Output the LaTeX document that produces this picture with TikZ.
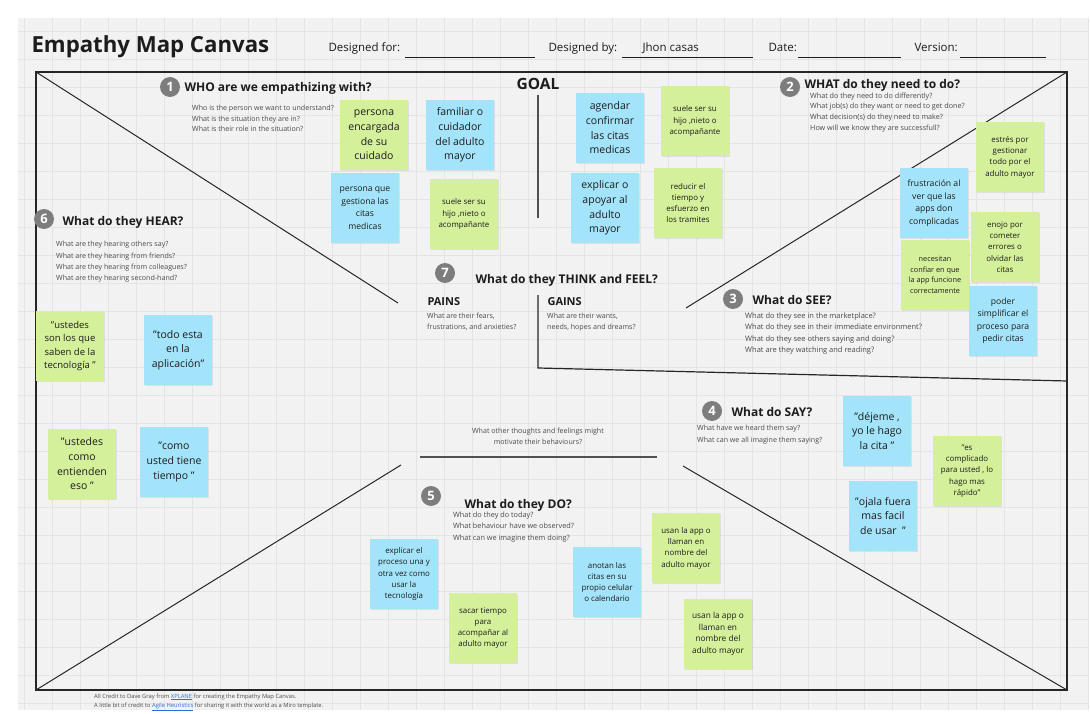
\documentclass[tikz,border=0pt]{standalone}
\usepackage{fontspec}
\setmainfont{Open Sans}
\usepackage{xcolor}
\usepackage{tikz}
\usetikzlibrary{shadows}
\definecolor{ink}{HTML}{1C1C1C}
\definecolor{muted}{HTML}{4A4A4A}
\definecolor{canvas}{HTML}{F2F2F2}
\definecolor{gridgray}{HTML}{E4E4E4}
\definecolor{framegray}{HTML}{262626}
\definecolor{bargray}{HTML}{505050}
\definecolor{dotgray}{HTML}{7D7D7D}
\definecolor{stickgreen}{HTML}{D5F09B}
\definecolor{stickblue}{HTML}{A3E4FA}
\definecolor{linkblue}{HTML}{2F6CE0}
\tikzset{
  stick/.style={minimum width=68pt, minimum height=70pt, inner sep=0pt, align=center, text=ink,
    drop shadow={shadow xshift=.6pt, shadow yshift=-1.4pt, opacity=.16}},
  gstick/.style={stick, fill=stickgreen},
  bstick/.style={stick, fill=stickblue},
  txtbig/.style={font=\fontsize{10.5}{14.7}\selectfont},
  txtmid/.style={font=\fontsize{8.6}{12.5}\selectfont},
  txtsmall/.style={font=\fontsize{7.9}{11.3}\selectfont},
  txttiny/.style={font=\fontsize{7.3}{10.5}\selectfont},
  numdot/.style={circle, fill=dotgray, text=white, minimum size=20pt, inner sep=0pt,
    font=\bfseries\fontsize{13}{13}\selectfont},
  head/.style={anchor=west, font=\bfseries\fontsize{12}{14}\selectfont, text=ink},
  ques/.style={anchor=north west, inner sep=0pt, align=left, text=muted},
  diag/.style={draw=framegray, line width=1pt},
  bar/.style={draw=bargray, line width=1.8pt},
  hdr/.style={anchor=base west, font=\fontsize{11.5}{13}\selectfont, text=ink},
  blank/.style={draw=ink, line width=.7pt}
}

\begin{document}
\begin{tikzpicture}[x=1pt,y=-1pt]
  \useasboundingbox[fill=white] (0,0) rectangle (1090,714);
  \fill[canvas] (18,18) rectangle (1088,710);
  % board grid
  \foreach \gx in {24,52,...,1088} \draw[gridgray,line width=.5pt] (\gx,18) -- (\gx,710);
  \foreach \gy in {31,59,...,703} \draw[gridgray,line width=.5pt] (18,\gy) -- (1088,\gy);

  % header
  \node[anchor=base west,font=\bfseries\fontsize{22.2}{26}\selectfont,text=ink] (title) at (28,52.5) {Empathy Map Canvas};
  \node[hdr] (forlbl) at (325,52) {Designed for:};
  \node[hdr] (bylbl) at (545,52) {Designed by:};
  \node[hdr] (byname) at (639,52) {Jhon casas};
  \node[hdr] (datelbl) at (765,52) {Date:};
  \node[hdr] (verlbl) at (911,52) {Version:};
  \draw[blank] (405,57) -- (535,57);
  \draw[blank] (622,57) -- (753,57);
  \draw[blank] (798,57) -- (901,57);
  \draw[blank] (960,57) -- (1046,57);

  % canvas frame and dividers
  \coordinate (tl) at (36,72);
  \coordinate (tr) at (1067,72);
  \coordinate (bl) at (36,690);
  \coordinate (br) at (1067,690);
  \draw[framegray,line width=1.5pt] (tl) rectangle (br);
  \draw[diag] (tl) -- (398,303);
  \draw[diag] (tr) -- (686,308);
  \draw[diag] (bl) -- (401,465);
  \draw[diag] (br) -- (683,466);
  \draw[bar] (538,95) -- (538,218);
  \draw[bar] (420,457) -- (657,457);
  \draw[diag,line width=1.2pt] (538,295) -- (538,368) -- (1067,381);

  % 1 who
  \node[numdot] (n1) at (170,87) {1};
  \node[head] (who) at (181,88) {WHO are we empathizing with?};
  \node[ques,font=\fontsize{7.1}{10.3}\selectfont] (whoq) at (192,105.3)
    {Who is the person we want to understand?\\What is the situation they are in?\\What is their role in the situation?};
  \node[gstick,txtbig] (whoA) at (374,135) {persona\\encargada\\de su\\cuidado};
  \node[bstick,txtbig] (whoB) at (460,135) {familiar o\\cuidador\\del adulto\\mayor};
  \node[bstick,txtmid] (whoC) at (365,208) {persona que\\gestiona las\\citas\\medicas};
  \node[gstick,txtsmall] (whoD) at (464,214) {suele ser su\\hijo ,nieto o\\acompañante};

  % goal
  \node[font=\bfseries\fontsize{15.5}{17}\selectfont,text=ink] (goal) at (538,84) {GOAL};
  \node[bstick,txtbig] (goalA) at (610,128) {agendar\\confirmar\\las citas\\medicas};
  \node[gstick,txtsmall] (goalB) at (695,121) {suele ser su\\hijo ,nieto o\\acompañante};
  \node[bstick,txtbig] (goalC) at (605,208) {explicar o\\apoyar al\\adulto\\mayor};
  \node[gstick,txtsmall] (goalD) at (688,203) {reducir el\\tiempo y\\esfuerzo en\\los tramites};

  % 2 need
  \node[numdot] (n2) at (790,87) {2};
  \node[head] (need) at (801,85) {WHAT do they need to do?};
  \node[ques,font=\fontsize{7.2}{10.8}\selectfont] (needq) at (810,92.3)
    {What do they need to do differently?\\What job(s) do they want or need to get done?\\What decision(s) do they need to make?\\How will we know they are successfull?};
  \node[gstick,txtsmall] (needA) at (1010,157) {estrés por\\gestionar\\todo por el\\adulto mayor};
  \node[bstick,txtmid] (needB) at (934,203) {frustración al\\ver que las\\apps don\\complicadas};
  \node[gstick,txtsmall] (needC) at (1005,247) {enojo por\\cometer\\errores o\\olvidar las\\citas};
  \node[gstick,txttiny] (needD) at (935,275) {necesitan\\confiar en que\\la app funcione\\correctamente};
  \node[bstick,txtmid] (needE) at (1003,321) {poder\\simplificar el\\proceso para\\pedir citas};

  % 6 hear
  \node[numdot] (n6) at (44,219) {6};
  \node[head] (hear) at (59,222) {What do they HEAR?};
  \node[ques,font=\fontsize{7.1}{11.3}\selectfont] (hearq) at (56,241.3)
    {What are they hearing others say?\\What are they hearing from friends?\\What are they hearing from colleagues?\\What are they hearing second-hand?};
  \node[gstick,font=\fontsize{9.5}{13.4}\selectfont] (hearA) at (70,346) {"ustedes\\son los que\\saben de la\\tecnología "};
  \node[bstick,txtbig] (hearB) at (178,350) {"todo esta\\en la\\aplicación"};
  \node[gstick,txtbig] (hearC) at (82,464) {"ustedes\\como\\entienden\\eso "};
  \node[bstick,txtbig] (hearD) at (174,462) {"como\\usted tiene\\tiempo "};

  % 7 think and feel
  \node[numdot] (n7) at (445,273) {7};
  \node[head] (think) at (472,280) {What do they THINK and FEEL?};
  \node[anchor=west,font=\bfseries\fontsize{11}{13}\selectfont,text=ink] (pains) at (424,302) {PAINS};
  \node[ques,font=\fontsize{7.1}{11}\selectfont] (painsq) at (427,313.3) {What are their fears,\\frustrations, and anxieties?};
  \node[anchor=west,font=\bfseries\fontsize{11}{13}\selectfont,text=ink] (gains) at (544,302) {GAINS};
  \node[ques,font=\fontsize{7.1}{11}\selectfont] (gainsq) at (547,313.3) {What are their wants,\\needs, hopes and dreams?};
  \node[align=center,font=\fontsize{7.1}{11}\selectfont,text=muted] (other) at (538,436)
    {What other thoughts and feelings might\\motivate their behaviours?};

  % 3 see
  \node[numdot] (n3) at (733,299) {3};
  \node[head] (see) at (749,300) {What do SEE?};
  \node[ques,font=\fontsize{7.5}{11.5}\selectfont] (seeq) at (745,312.3)
    {What do they see in the marketplace?\\What do they see in their immediate environment?\\What do they see others saying and doing?\\What are they watching and reading?};

  % 4 say
  \node[numdot] (n4) at (712,411) {4};
  \node[head] (say) at (728,412) {What do SAY?};
  \node[ques,font=\fontsize{7.1}{12}\selectfont] (sayq) at (697,425.3)
    {What have we heard them say?\\What can we all imagine them saying?};
  \node[bstick,txtbig] (sayA) at (877,431) {"déjeme ,\\yo le hago\\la cita "};
  \node[gstick,txtsmall] (sayB) at (967,471) {"es\\complicado\\para usted , lo\\hago mas\\rápido"};
  \node[bstick,txtbig] (sayC) at (883,516) {"ojala fuera\\mas facil\\de usar~~"};

  % 5 do
  \node[numdot] (n5) at (431,496) {5};
  \node[head] (do) at (461,505) {What do they DO?};
  \node[ques,font=\fontsize{7.3}{11.5}\selectfont] (doq) at (453,511.3)
    {What do they do today?\\What behaviour have we observed?\\What can we imagine them doing?};
  \node[bstick,txtsmall] (doA) at (404,574) {explicar el\\proceso una y\\otra vez como\\usar la\\tecnología};
  \node[gstick,txtsmall] (doB) at (483,628) {sacar tiempo\\para\\acompañar al\\adulto mayor};
  \node[bstick,txtsmall] (doC) at (607,582) {anotan las\\citas en su\\propio celular\\o calendario};
  \node[gstick,txtsmall] (doD) at (686,548) {usan la app o\\llaman en\\nombre del\\adulto mayor};
  \node[gstick,font=\fontsize{8.3}{11.6}\selectfont] (doE) at (718,634) {usan la app o\\llaman en\\nombre del\\adulto mayor};

  % credits
  \node[ques,font=\fontsize{5.8}{9}\selectfont] (credit) at (94,693.5)
    {All Credit to Dave Gray from \textcolor{linkblue}{\underline{XPLANE}} for creating the Empathy Map Canvas.\\
     A little bit of credit to \textcolor{linkblue}{\underline{Agile Heuristics}} for sharing it with the world as a Miro template.};
\end{tikzpicture}
\end{document}
